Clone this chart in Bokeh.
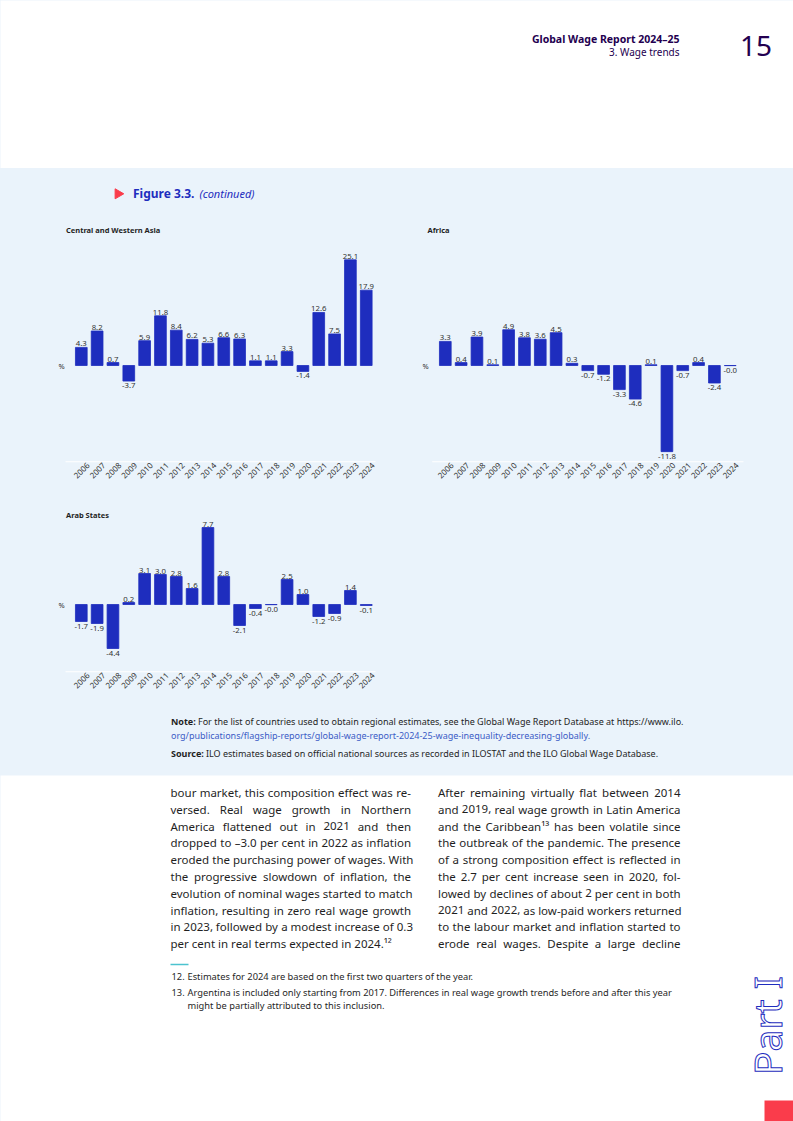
from math import pi
from bokeh.plotting import figure
from bokeh.models import Range1d, FixedTicker, NumeralTickFormatter
from bokeh.layouts import column, row
from bokeh.embed import file_html
from bokeh.resources import INLINE
from bokeh.core.properties import value

# ---------------- data ----------------
years = list(range(2006, 2025))
central_western_asia = [4.3, 8.2, 0.7, -3.7, 5.9, 11.8, 8.4, 6.2, 5.3, 6.6, 6.3,
                        1.1, 1.1, 3.3, -1.4, 12.6, 7.5, 25.1, 17.9]
africa = [3.3, 0.4, 3.9, 0.1, 4.9, 3.8, 3.6, 4.5, 0.3, -0.7, -1.2,
          -3.3, -4.6, 0.1, -11.8, -0.7, 0.4, -2.4, -0.02]
arab_states = [-1.7, -1.9, -4.4, 0.2, 3.1, 3.0, 2.8, 1.6, 7.7, 2.8, -2.1,
               -0.4, -0.02, 2.5, 1.0, -1.2, -0.9, 1.4, -0.1]
chart_titles = ["Central and Western Asia", "Africa", "Arab States"]
unit_label = "%"

header_title = "Global Wage Report 2024\u201325"
header_sub = "3. Wage trends"
page_number = "15"
figure_label = "Figure 3.3."
figure_cont = "(continued)"

note_bold = "Note:"
note_text = ("For the list of countries used to obtain regional estimates, see the "
             "Global Wage Report Database at https://www.ilo.")
note_link = "org/publications/flagship-reports/global-wage-report-2024-25-wage-inequality-decreasing-globally."
source_bold = "Source:"
source_text = "ILO estimates based on official national sources as recorded in ILOSTAT and the ILO Global Wage Database."

left_col = [
    "bour market, this composition effect was re-",
    "versed. Real wage growth in Northern",
    "America flattened out in 2021 and then",
    "dropped to \u20133.0 per cent in 2022 as inflation",
    "eroded the purchasing power of wages. With",
    "the progressive slowdown of inflation, the",
    "evolution of nominal wages started to match",
    "inflation, resulting in zero real wage growth",
    "in 2023, followed by a modest increase of 0.3",
    "per cent in real terms expected in 2024.\u00b9\u00b2",
]
right_col = [
    "After remaining virtually flat between 2014",
    "and 2019, real wage growth in Latin America",
    "and the Caribbean\u00b9\u00b3 has been volatile since",
    "the outbreak of the pandemic. The presence",
    "of a strong composition effect is reflected in",
    "the 2.7 per cent increase seen in 2020, fol-",
    "lowed by declines of about 2 per cent in both",
    "2021 and 2022, as low-paid workers returned",
    "to the labour market and inflation started to",
    "erode real wages. Despite a large decline",
]
footnote_nums = ["12.", "13."]
footnote_lines = [
    "Estimates for 2024 are based on the first two quarters of the year.",
    "Argentina is included only starting from 2017. Differences in real wage growth trends before and after this year",
    "might be partially attributed to this inclusion.",
]
part_label = "Part I"

# ---------------- styles ----------------
FONT = value("Noto Sans")
BAND = "#EAF3FB"
BAR = "#1E2DBE"
DARK = "#230050"
TXT = "#1f1f1f"
LABEL = "#333333"
LINK = "#3B5CC6"
RED = "#FA3C4B"
TEAL = "#4CC3CF"
STEP = 15.83  # px per year

# approximate Noto Sans advance widths (per 1000 em) for justification
CW = dict(zip("abcdefghijklmnopqrstuvwxyz",
              [561, 615, 480, 615, 564, 344, 615, 618, 258, 258, 534, 258, 940,
               618, 605, 615, 615, 413, 479, 361, 618, 508, 786, 529, 510, 470]))
CW.update({"A": 639, "B": 650, "C": 632, "D": 726, "E": 556, "F": 522, "G": 725,
           "H": 752, "I": 329, "L": 524, "N": 763, "R": 617, "S": 549, "T": 557,
           "W": 928, " ": 260, ",": 258, ".": 268, "-": 322, "\u2013": 500,
           "\u00b9": 360, "\u00b2": 360, "\u00b3": 360})
for d in "0123456789":
    CW[d] = 572


def est_w(s, size):
    return sum(CW.get(c, 570) for c in s) * size / 1000.0


def canvas(width, height, left_px, top_px, bg):
    p = figure(width=width, height=height,
               x_range=Range1d(left_px, left_px + width),
               y_range=Range1d(top_px + height, top_px),
               x_axis_location=None, y_axis_location=None,
               toolbar_location=None, output_backend="svg",
               min_border=0, background_fill_color=bg, border_fill_color=bg,
               outline_line_color=None)
    p.grid.visible = False
    return p


def txt(p, x, y, s, size, color=TXT, style="normal", align="left", baseline="middle", angle=0):
    return p.text(x=[x], y=[y], text=[s], text_font=FONT, text_font_size=size,
                  text_font_style=style, text_color=color, text_align=align,
                  text_baseline=baseline, angle=angle)


def justified(p, line, xl, xr, y, size, justify=True):
    words = line.split(" ")
    fs = f"{size}px"
    if not justify or len(words) < 2:
        txt(p, xl, y, line, fs)
        return
    widths = [est_w(w, size) for w in words]
    space = est_w(" ", size)
    gap = (xr - xl - sum(widths)) / (len(words) - 1)
    stretch = gap >= space
    gap = max(gap, space)
    xs, x = [], xl
    for w in widths:
        xs.append(x)
        x += w + gap
    if stretch:
        p.text(x=xs[:-1], y=[y] * (len(words) - 1), text=words[:-1], text_font=FONT,
               text_font_size=fs, text_color=TXT, text_align="left", text_baseline="middle")
        txt(p, xr, y, words[-1], fs, align="right")
    else:
        p.text(x=xs, y=[y] * len(words), text=words, text_font=FONT,
               text_font_size=fs, text_color=TXT, text_align="left", text_baseline="middle")


def chart(vals, title, left_px, width, top_px, height, bottom_border,
          zero_px, yscale, first_center_px, title_px, pct_px, line_px):
    x0 = years[0] - (first_center_px - left_px) / STEP
    x1 = x0 + width / STEP
    frame_bottom = top_px + height - bottom_border
    y_top = (zero_px - top_px) / yscale
    y_bot = (zero_px - frame_bottom) / yscale
    px2x = lambda px: x0 + (px - left_px) / STEP
    py2y = lambda py: (zero_px - py) / yscale

    p = figure(width=width, height=height, x_range=Range1d(x0, x1),
               y_range=Range1d(y_bot, y_top), y_axis_location=None,
               toolbar_location=None, output_backend="svg",
               min_border_left=0, min_border_right=0, min_border_top=0,
               min_border_bottom=bottom_border,
               background_fill_color=BAND, border_fill_color=BAND,
               outline_line_color=None)
    p.grid.visible = False
    ax = p.xaxis[0]
    # labels are centred under each bar (nudge compensates right-anchored rotation)
    ax.ticker = FixedTicker(ticks=[y + 0.41 for y in years])
    ax.formatter = NumeralTickFormatter(format="0")
    ax.major_label_orientation = pi / 4
    ax.major_label_text_font = "Noto Sans"
    ax.major_label_text_font_size = "8px"
    ax.major_label_text_color = LABEL
    ax.major_label_standoff = -5
    ax.major_tick_line_color = None
    ax.minor_tick_line_color = None
    ax.axis_line_color = None

    p.vbar(x=years, top=vals, bottom=0, width=0.74, fill_color=BAR,
           line_color=BAR, line_width=0.8)

    labels = [f"{v:.1f}" for v in vals]
    pos = [(x, v, s) for x, v, s in zip(years, vals, labels) if v >= 0]
    neg = [(x, v, s) for x, v, s in zip(years, vals, labels) if v < 0]
    for grp, base, off in ((pos, "bottom", -1), (neg, "top", 2)):
        if grp:
            p.text(x=[g[0] for g in grp], y=[g[1] for g in grp], text=[g[2] for g in grp],
                   text_font=FONT, text_font_size="7.8px", text_color=LABEL,
                   text_align="center", text_baseline=base, y_offset=off)

    yl = y_bot + 0.6 / yscale
    p.segment(x0=[px2x(line_px[0])], x1=[px2x(line_px[1])], y0=[yl], y1=[yl],
              line_color="white", line_width=1.2)
    txt(p, px2x(title_px[0]), py2y(title_px[1]), title, "7.5px", TXT, "bold")
    txt(p, px2x(pct_px[0]), py2y(pct_px[1]), unit_label, "7.5px", LABEL, align="center")
    return p


W = 793
# header
header = canvas(W, 168, 0, 0, "white")
txt(header, 679, 38.3, header_title, "10.5px", DARK, "bold", align="right")
txt(header, 679, 51.7, header_sub, "10px", DARK, align="right")
txt(header, 739.5, 45, page_number, "28px", DARK)

# band top (figure title)
band_top = canvas(W, 44, 0, 168, BAND)
band_top.scatter(x=[117.5], y=[193.3], marker="triangle", size=10, angle=-pi / 2,
                 fill_color=RED, line_color=RED)
txt(band_top, 132.5, 193.3, figure_label, "12px", BAR, "bold")
txt(band_top, 199, 193.3, figure_cont, "11px", BAR, "italic")

# row 1 charts
c1 = chart(central_western_asia, chart_titles[0], 0, 408, 212, 288, 38,
           365, 4.21, 80.8, (65.5, 229), (61, 365), (65, 375))
c2 = chart(africa, chart_titles[1], 408, 385, 212, 288, 38,
           365, 7.3, 444.8, (427, 229), (425, 365), (431.7, 743))
# row 2
c3 = chart(arab_states, chart_titles[2], 0, 408, 500, 205, 33,
           604, 10.0, 80.8, (65.5, 514), (61, 604), (65, 375))
blank = canvas(385, 205, 408, 500, BAND)

# notes
notes = canvas(W, 70, 0, 705, BAND)
txt(notes, 170.5, 721, note_bold, "9px", TXT, "bold")
txt(notes, 197.5, 721, note_text, "9px", TXT)
txt(notes, 170.5, 734.5, note_link, "9px", LINK)
txt(notes, 170.5, 753, source_bold, "9px", TXT, "bold")
txt(notes, 205.5, 753, source_text, "9px", TXT)

# body text
body = canvas(W, 346, 0, 775, "white")
for i, s in enumerate(left_col):
    justified(body, s, 170, 410.5, 792 + i * 16.8, 11.5, justify=(i < len(left_col) - 1))
for i, s in enumerate(right_col):
    justified(body, s, 437.5, 680, 792 + i * 16.8, 11.5, justify=True)
body.segment(x0=[170], x1=[188], y0=[964], y1=[964], line_color=TEAL, line_width=1.5)
txt(body, 171, 976, footnote_nums[0], "9.3px", TXT)
txt(body, 187, 976, footnote_lines[0], "9.3px", TXT)
txt(body, 171, 991.5, footnote_nums[1], "9.3px", TXT)
txt(body, 187, 991.5, footnote_lines[1], "9.3px", TXT)
txt(body, 187, 1005, footnote_lines[2], "9.3px", TXT)
try:
    body.text(x=[766], y=[1025], text=[part_label], text_font=FONT, text_font_size="39px",
              text_color="white", text_outline_color=BAR, text_align="center",
              text_baseline="middle", angle=pi / 2)
except Exception:
    txt(body, 766, 1025, part_label, "39px", BAR, align="center", angle=pi / 2)
body.quad(left=[764], right=[794], top=[1100], bottom=[1122], fill_color=RED, line_color=None)

bg = {"background-color": BAND}
layout = column(header, band_top, row(c1, c2, styles=bg), row(c3, blank, styles=bg),
                notes, body, styles=bg)

with open("out.html", "w") as f:
    f.write(file_html(layout, INLINE))
